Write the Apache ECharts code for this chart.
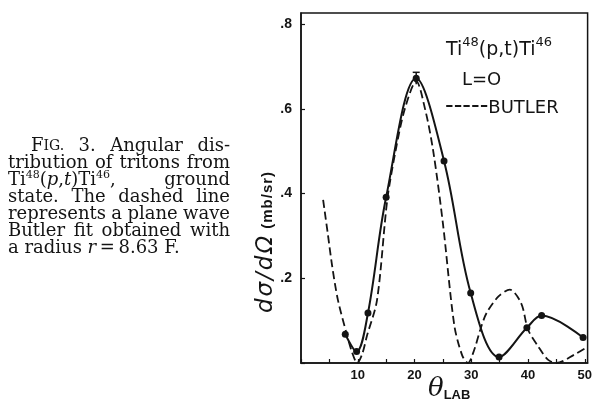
<!DOCTYPE html>
<html><head><meta charset="utf-8">
<script src="https://cdn.jsdelivr.net/npm/echarts@6/dist/echarts.min.js"></script>
<style>html,body{margin:0;padding:0;background:#fff;}#c{width:595px;height:407px;}</style>
</head><body><div id="c"></div>
<script>
// ---- data ----
const xTickValues = [10, 20, 30, 40, 50];
const yTickValues = [0.2, 0.4, 0.6, 0.8];
const yTickLabels = ['.2', '.4', '.6', '.8'];

// measured points (solid curve)
const dataTheta = [7.8, 9.8, 11.8, 15.0, 20.3, 25.2, 29.9, 34.9, 39.8, 42.4, 49.7];
const dataSigma = [0.068, 0.027, 0.118, 0.391, 0.672, 0.477, 0.165, 0.014, 0.083, 0.112, 0.060];

// error bar on the peak point
const errTheta = [20.3];
const errLow = [0.658];
const errHigh = [0.686];

// Butler plane-wave fit (dashed)
const butlerTheta = [3.9, 4.7, 5.5, 6.5, 8.0, 9.0, 9.9, 10.8, 11.6, 13.4, 15.2, 16.7, 18.3, 20.3, 21.9, 23.3, 25.0, 27.0, 28.4, 29.4, 30.5, 31.6, 32.7, 34.8, 36.8, 38.8, 40.0, 41.8, 43.5, 45.0, 48.2, 50.5];
const butlerSigma = [0.385, 0.307, 0.228, 0.149, 0.071, 0.025, 0.0, 0.022, 0.063, 0.149, 0.385, 0.503, 0.600, 0.665, 0.597, 0.500, 0.330, 0.090, 0.018, 0.0, 0.030, 0.079, 0.118, 0.157, 0.173, 0.141, 0.079, 0.039, 0.008, 0.0, 0.020, 0.038];

// ---- text helpers ----
const INK = '#141414';
const ctx = document.createElement('canvas').getContext('2d');
function mw(t, f) { ctx.font = f; return ctx.measureText(t).width; }
function seg(t, f, dy, ls) { return { t: t, f: f, dy: dy || 0, ls: ls || 0 }; }
function segW(s) {
  if (!s.ls) return mw(s.t, s.f);
  return Array.from(s.t).reduce((a, ch) => a + mw(ch, s.f) + s.ls, 0);
}
function placeRun(segs, x, y, out) {
  let cx = x;
  segs.forEach(s => {
    const pieces = s.ls ? Array.from(s.t) : [s.t];
    pieces.forEach(p => {
      out.push({ type: 'text', x: cx, y: y + s.dy, silent: true,
        style: { text: p, font: s.f, fill: INK, align: 'left', verticalAlign: 'middle' } });
      cx += mw(p, s.f) + s.ls;
    });
  });
  return cx - x;
}
function runWidth(segs) { return segs.reduce((a, s) => a + segW(s), 0); }
function justifyLine(words, x0, x1, y, out) {
  const widths = words.map(runWidth);
  const total = widths.reduce((a, b) => a + b, 0);
  const gap = words.length > 1 ? (x1 - x0 - total) / (words.length - 1) : 0;
  let cx = x0;
  words.forEach((wd, i) => { placeRun(wd, cx, y, out); cx += widths[i] + gap; });
}

const SN = '18px "DejaVu Serif"';
const SSC = '14px "DejaVu Serif"';
const SIT = 'italic 18px "DejaVu Serif"';
const SSUP = '11px "DejaVu Serif"';
const N = t => seg(t, SN);
const elements = [];

// caption (left)
const capX0 = 8, capX1 = 230, capY0 = 146.5, capDY = 17.05;
const capLines = [
  { x0: 31, words: [[N('F'), seg('IG.', SSC)], [N('3.')], [N('Angular')], [N('dis-')]] },
  { words: [[N('tribution')], [N('of')], [N('tritons')], [N('from')]] },
  { words: [[N('Ti'), seg('48', SSUP, -5), N('('), seg('p', SIT), N(','), seg('t', SIT), N(')Ti'), seg('46', SSUP, -5), N(',')], [N('ground')]] },
  { words: [[N('state.')], [N('The')], [N('dashed')], [N('line')]] },
  { words: [[N('represents')], [N('a')], [N('plane')], [N('wave')]] },
  { words: [[N('Butler')], [N('fit')], [N('obtained')], [N('with')]] },
  { left: true, words: [[N('a radius '), seg('r', SIT), N('\u2009=\u20098.63 F.')]] }
];
capLines.forEach((ln, i) => {
  const y = capY0 + i * capDY;
  if (ln.left) placeRun(ln.words[0], capX0, y, elements);
  else justifyLine(ln.words, ln.x0 || capX0, capX1, y, elements);
});

// in-plot annotation
const LS = '19px "DejaVu Sans"';
const LSS = '13px "DejaVu Sans"';
placeRun([seg('Ti', LS), seg('48', LSS, -7), seg('(p,t)Ti', LS), seg('46', LSS, -7)], 446, 50, elements);
placeRun([seg('L=O', '18px "DejaVu Sans"')], 462, 80, elements);
placeRun([seg('-----', '24px "DejaVu Sans"', -1), seg('BUTLER', '18px "DejaVu Sans"')], 445, 108, elements);

// x axis name
placeRun([seg('\u03B8', 'italic 26px "DejaVu Serif"', 0), seg('LAB', 'bold 13px "Liberation Sans"', 6)], 428, 389, elements);

// y axis name (rotated, reads bottom to top)
const yNameSegs = [seg('d\u03C3/d\u03A9', 'italic 23px "DejaVu Sans"', 0, 2), seg(' (mb/sr)', 'bold 15px "Liberation Sans"', 2, 1)];
const yNameW = runWidth(yNameSegs);
const yChildren = [];
placeRun(yNameSegs, -yNameW / 2, 0, yChildren);
elements.push({ type: 'group', x: 266, y: 242, rotation: Math.PI / 2, children: yChildren });

const chart = echarts.init(document.getElementById('c'), null, { renderer: 'canvas' });
const axisFont = { fontFamily: 'Liberation Sans', fontWeight: 'bold', fontSize: 13, color: INK };
chart.setOption({
  animation: false,
  backgroundColor: '#fff',
  grid: { left: 301, right: 5, top: 13, bottom: 44, show: true, borderColor: INK, borderWidth: 1.5, backgroundColor: 'transparent' },
  xAxis: {
    type: 'value', min: 0, max: 50.5, interval: 5,
    axisLine: { show: true, lineStyle: { color: INK, width: 1.5 } },
    axisTick: { show: true, inside: true, length: 4, lineStyle: { color: INK, width: 1.2 } },
    axisLabel: Object.assign({ margin: 6, showMaxLabel: false,
      formatter: v => (xTickValues.indexOf(Math.round(v)) >= 0 && Math.abs(v - Math.round(v)) < 1e-6) ? String(Math.round(v)) : '' }, axisFont),
    splitLine: { show: false }
  },
  yAxis: {
    type: 'value', min: 0, max: 0.826, interval: 0.2,
    axisLine: { show: true, lineStyle: { color: INK, width: 1.5 } },
    axisTick: { show: true, inside: true, length: 4, lineStyle: { color: INK, width: 1.2 } },
    axisLabel: Object.assign({ margin: 9, showMaxLabel: false,
      formatter: v => { const i = yTickValues.findIndex(t => Math.abs(t - v) < 1e-6); return i >= 0 ? yTickLabels[i] : ''; } }, axisFont, { fontSize: 14 }),
    splitLine: { show: false }
  },
  series: [
    {
      name: 'BUTLER', type: 'line', smooth: 0.3, showSymbol: false, silent: true,
      data: butlerTheta.map((t, i) => [t, butlerSigma[i]]),
      lineStyle: { color: INK, width: 1.8, type: [8, 4] }
    },
    {
      name: 'data', type: 'line', smooth: 0.35, symbol: 'circle', symbolSize: 7, silent: true,
      data: dataTheta.map((t, i) => [t, dataSigma[i]]),
      itemStyle: { color: INK }, lineStyle: { color: INK, width: 2 }
    },
    {
      name: 'err', type: 'custom', silent: true,
      data: errTheta.map((t, i) => [t, errLow[i], errHigh[i]]),
      renderItem: (params, api) => {
        const lo = api.coord([api.value(0), api.value(1)]);
        const hi = api.coord([api.value(0), api.value(2)]);
        const st = { stroke: INK, lineWidth: 1.5 };
        return { type: 'group', children: [
          { type: 'line', shape: { x1: lo[0], y1: lo[1], x2: hi[0], y2: hi[1] }, style: st },
          { type: 'line', shape: { x1: hi[0] - 3.5, y1: hi[1], x2: hi[0] + 3.5, y2: hi[1] }, style: st }
        ] };
      }
    }
  ],
  graphic: { elements: elements }
});
</script>
</body></html>
